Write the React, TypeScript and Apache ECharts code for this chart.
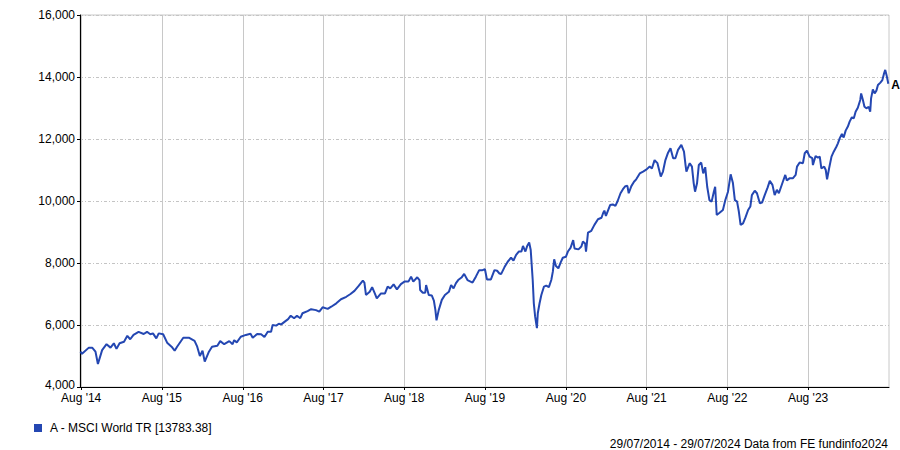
import React, { useEffect, useRef } from "react";
import * as echarts from "echarts";

const seriesName = "A - MSCI World TR [13783.38]";
const endLabelText = "A";
const footerText = "29/07/2014 - 29/07/2024 Data from FE fundinfo2024";

const tickDates = [
  "2014-08-01", "2015-08-01", "2016-08-01", "2017-08-01", "2018-08-01",
  "2019-08-01", "2020-08-01", "2021-08-01", "2022-08-01", "2023-08-01",
];
const xMinDate = "2014-07-27";
const xMaxDate = "2024-08-01";
const yMin = 4000;
const yMax = 16000;
const yStep = 2000;

const dates2014_2016 = [
  "2014-07-29", "2014-08-05", "2014-09-05", "2014-09-20", "2014-10-05", "2014-10-16", "2014-11-04", "2014-11-24", "2014-12-12", "2014-12-27",
  "2015-01-08", "2015-01-22", "2015-02-11", "2015-02-26", "2015-03-11", "2015-03-26", "2015-04-18", "2015-05-11", "2015-05-26", "2015-06-10",
  "2015-06-22", "2015-07-07", "2015-07-18", "2015-08-07", "2015-08-25", "2015-09-14", "2015-09-28", "2015-10-09", "2015-11-06", "2015-12-01",
  "2015-12-27", "2016-01-08", "2016-01-20", "2016-02-01", "2016-02-11", "2016-03-01", "2016-03-15", "2016-04-08", "2016-04-21", "2016-05-09",
  "2016-06-01", "2016-06-16", "2016-06-23", "2016-07-05", "2016-07-23", "2016-08-15", "2016-09-05", "2016-09-15", "2016-10-05", "2016-10-23",
  "2016-11-07", "2016-11-22", "2016-12-07", "2016-12-14", "2016-12-30",
];
const values2014_2016 = [
  5140, 5070, 5270, 5270, 5140, 4740, 5190, 5380, 5270, 5410,
  5230, 5410, 5460, 5650, 5540, 5680, 5780, 5710, 5780, 5700,
  5730, 5570, 5730, 5700, 5430, 5300, 5170, 5300, 5590, 5590,
  5490, 5300, 5000, 5170, 4820, 5140, 5300, 5330, 5480, 5380,
  5480, 5380, 5510, 5440, 5620, 5680, 5720, 5590, 5710, 5700,
  5610, 5780, 5780, 6000, 5980,
];

const dates2017_2019 = [
  "2017-01-11", "2017-01-22", "2017-02-07", "2017-02-22", "2017-03-06", "2017-03-21", "2017-04-03", "2017-04-18", "2017-04-28", "2017-05-21",
  "2017-06-06", "2017-06-28", "2017-07-13", "2017-07-28", "2017-08-20", "2017-09-05", "2017-09-28", "2017-10-19", "2017-11-12", "2017-12-01",
  "2017-12-19", "2018-01-07", "2018-01-26", "2018-02-02", "2018-02-09", "2018-02-26", "2018-03-09", "2018-03-21", "2018-03-30", "2018-04-18",
  "2018-05-06", "2018-05-18", "2018-05-30", "2018-06-14", "2018-06-29", "2018-07-17", "2018-08-02", "2018-08-20", "2018-09-01", "2018-09-11",
  "2018-09-29", "2018-10-09", "2018-10-12", "2018-10-24", "2018-11-04", "2018-11-08", "2018-11-20", "2018-12-04", "2018-12-13", "2018-12-20",
  "2018-12-25", "2019-01-04", "2019-01-18", "2019-02-01", "2019-02-19", "2019-03-01", "2019-03-12", "2019-03-23", "2019-04-02", "2019-04-17",
  "2019-04-29", "2019-05-14", "2019-06-06", "2019-06-21", "2019-07-06", "2019-07-21", "2019-08-01", "2019-08-10", "2019-08-28", "2019-09-13",
  "2019-09-25", "2019-10-04", "2019-10-13", "2019-10-28", "2019-11-12", "2019-11-27", "2019-12-08", "2019-12-20",
];
const values2017_2019 = [
  6040, 6020, 6110, 6190, 6300, 6220, 6300, 6220, 6380, 6450,
  6510, 6480, 6430, 6570, 6520, 6590, 6700, 6830, 6910, 7000,
  7100, 7260, 7430, 7370, 6970, 7070, 7220, 7020, 6860, 7020,
  7020, 7240, 7180, 7310, 7150, 7320, 7400, 7400, 7560, 7400,
  7540, 7450, 7130, 7040, 7040, 7290, 6970, 6950, 6790, 6480,
  6150, 6480, 6810, 6970, 7070, 7290, 7180, 7350, 7450, 7530,
  7650, 7450, 7370, 7560, 7770, 7770, 7800, 7470, 7470, 7770,
  7750, 7670, 7640, 7860, 8040, 8170, 8080, 8260,
];

const dates2020_2021 = [
  "2020-01-01", "2020-01-13", "2020-01-20", "2020-01-31", "2020-02-08", "2020-02-17", "2020-02-24", "2020-02-28", "2020-03-04", "2020-03-09",
  "2020-03-15", "2020-03-23", "2020-03-27", "2020-04-04", "2020-04-12", "2020-04-24", "2020-05-04", "2020-05-16", "2020-05-27", "2020-06-03",
  "2020-06-09", "2020-06-17", "2020-06-28", "2020-07-08", "2020-07-18", "2020-08-01", "2020-08-10", "2020-08-22", "2020-09-03", "2020-09-09",
  "2020-09-27", "2020-10-10", "2020-10-17", "2020-10-27", "2020-10-31", "2020-11-09", "2020-11-24", "2020-12-08", "2020-12-24", "2021-01-09",
  "2021-01-17", "2021-01-22", "2021-01-29", "2021-02-17", "2021-03-01", "2021-03-13", "2021-03-23", "2021-04-05", "2021-04-16", "2021-04-27",
  "2021-05-06", "2021-05-12", "2021-05-24", "2021-06-05", "2021-06-15", "2021-07-01", "2021-07-16", "2021-08-01", "2021-08-15", "2021-08-25",
  "2021-09-06", "2021-09-19", "2021-10-04", "2021-10-14", "2021-10-25", "2021-11-06", "2021-11-17", "2021-11-29", "2021-12-09", "2021-12-21",
];
const values2020_2021 = [
  8370, 8370, 8550, 8370, 8550, 8660, 8420, 7990, 7450, 6700,
  6270, 5900, 6380, 6700, 6970, 7240, 7270, 7220, 7450, 7720,
  8120, 7900, 7830, 8010, 8170, 8200, 8370, 8490, 8740, 8470,
  8440, 8530, 8690, 8630, 8370, 8980, 9040, 9230, 9410, 9460,
  9620, 9690, 9520, 9870, 9890, 9840, 10000, 10250, 10380, 10480,
  10490, 10250, 10480, 10620, 10700, 10890, 10950, 11020, 11110, 11050,
  11320, 11220, 10790, 10950, 11320, 11560, 11700, 11380, 11380, 11650,
];

const dates2022_2024 = [
  "2022-01-05", "2022-01-17", "2022-01-24", "2022-01-28", "2022-02-12", "2022-02-22", "2022-03-02", "2022-03-08", "2022-03-17", "2022-03-25",
  "2022-04-05", "2022-04-14", "2022-04-23", "2022-05-02", "2022-05-12", "2022-05-22", "2022-06-01", "2022-06-07", "2022-06-14", "2022-06-27",
  "2022-07-12", "2022-07-23", "2022-08-04", "2022-08-16", "2022-08-26", "2022-09-04", "2022-09-14", "2022-09-22", "2022-09-30", "2022-10-11",
  "2022-10-22", "2022-11-03", "2022-11-13", "2022-11-20", "2022-12-03", "2022-12-13", "2022-12-26", "2023-01-05", "2023-01-17", "2023-01-30",
  "2023-02-09", "2023-02-21", "2023-03-03", "2023-03-13", "2023-03-22", "2023-04-09", "2023-04-20", "2023-04-27", "2023-05-09", "2023-05-24",
  "2023-06-06", "2023-06-12", "2023-06-24", "2023-07-09", "2023-07-17", "2023-07-27", "2023-08-08", "2023-08-20", "2023-08-23", "2023-09-04",
  "2023-09-15", "2023-09-23", "2023-09-30", "2023-10-13", "2023-10-20", "2023-10-26", "2023-11-04", "2023-11-15", "2023-11-25", "2023-12-07",
  "2023-12-14", "2023-12-22", "2024-01-01", "2024-01-09", "2024-01-18", "2024-01-28", "2024-02-05", "2024-02-15", "2024-02-24", "2024-03-03",
  "2024-03-13", "2024-03-24", "2024-03-28", "2024-04-05", "2024-04-12", "2024-04-22", "2024-05-01", "2024-05-08", "2024-05-12", "2024-05-20",
  "2024-05-28", "2024-06-05", "2024-06-12", "2024-06-23", "2024-07-02", "2024-07-09", "2024-07-15", "2024-07-21", "2024-07-29",
];
const values2022_2024 = [
  11810, 11590, 11160, 10950, 11220, 11110, 10570, 10300, 10570, 11160,
  11240, 10890, 11090, 10460, 10030, 9980, 10300, 10460, 9550, 9620,
  9710, 10030, 10300, 10860, 10590, 10030, 9980, 9660, 9230, 9280,
  9470, 9710, 9820, 10190, 10330, 10250, 9930, 9950, 10190, 10430,
  10650, 10520, 10190, 10360, 10250, 10620, 10840, 10660, 10730, 10730,
  10840, 11110, 11240, 11220, 11540, 11620, 11430, 11380, 11160, 11450,
  11400, 11430, 11050, 11110, 11000, 10700, 11050, 11430, 11590, 11750,
  11860, 12020, 12160, 12050, 12270, 12400, 12560, 12700, 12670, 12880,
  13010, 13260, 13470, 13260, 13040, 12990, 13040, 12880, 13310, 13600,
  13470, 13560, 13740, 13820, 13900, 14100, 14230, 14060, 13783.38,
];

const allDates = [...dates2014_2016, ...dates2017_2019, ...dates2020_2021, ...dates2022_2024];
const allValues = [...values2014_2016, ...values2017_2019, ...values2020_2021, ...values2022_2024];

const FONT = 'Arial, "Liberation Sans", sans-serif';
const LINE_COLOR = "#2447b2";

const ts = (d: string) => Date.UTC(+d.slice(0, 4), +d.slice(5, 7) - 1, +d.slice(8, 10));

export default function App() {
  const ref = useRef<HTMLDivElement>(null);

  useEffect(() => {
    if (!ref.current) return;
    const chart = echarts.init(ref.current, undefined, { renderer: "svg" });
    const data = allDates.map((d, i) => [ts(d), allValues[i]]);
    const tickValues = tickDates.map(ts);

    chart.setOption({
      animation: false,
      textStyle: { fontFamily: FONT },
      grid: {
        left: 80,
        right: 11,
        top: 15,
        bottom: 63,
        containLabel: false,
        show: true,
        borderColor: "#c8c8c8",
        borderWidth: 1,
      },
      legend: {
        show: true,
        left: 29,
        top: 417,
        icon: "rect",
        itemWidth: 8,
        itemHeight: 8,
        textStyle: { fontSize: 12, color: "#000", fontFamily: FONT, padding: [0, 0, 0, 3] },
        data: [seriesName],
      },
      graphic: [
        {
          type: "text",
          x: 888,
          y: 444,
          style: {
            text: footerText,
            font: `12px ${FONT}`,
            fill: "#000",
            textAlign: "right",
            textVerticalAlign: "middle",
          },
        },
      ],
      xAxis: {
        type: "value",
        min: ts(xMinDate),
        max: ts(xMaxDate),
        axisLine: { show: true, lineStyle: { color: "#000", width: 1 } },
        axisTick: { show: true, length: 3, lineStyle: { color: "#000" }, customValues: tickValues },
        axisLabel: {
          customValues: tickValues,
          margin: 6,
          lineHeight: 10,
          fontSize: 12,
          color: "#000",
          fontFamily: FONT,
          formatter: (v: number) => {
            const d = new Date(v);
            return "Aug '" + String(d.getUTCFullYear()).slice(2);
          },
        },
        splitLine: { show: true, lineStyle: { color: "#c8c8c8", width: 1, type: "solid" } },
      },
      yAxis: {
        type: "value",
        min: yMin,
        max: yMax,
        interval: yStep,
        axisLine: { show: true, lineStyle: { color: "#000", width: 1 } },
        axisTick: { show: true, length: 3, lineStyle: { color: "#000" } },
        axisLabel: {
          margin: 5,
          lineHeight: 10,
          fontSize: 12,
          color: "#000",
          fontFamily: FONT,
          formatter: (v: number) =>
            v === yMin ? `{m|${v.toLocaleString("en-US")}}` : v.toLocaleString("en-US"),
          rich: {
            m: { fontSize: 12, color: "#000", fontFamily: FONT, lineHeight: 10, padding: [0, 0, 4, 0] },
          },
        },
        splitLine: {
          show: true,
          lineStyle: { color: "#c4c4c4", width: 1, type: [3, 2, 1, 2] },
        },
      },
      series: [
        {
          name: seriesName,
          type: "line",
          data,
          showSymbol: false,
          symbol: "none",
          color: LINE_COLOR,
          lineStyle: { color: LINE_COLOR, width: 2 },
          endLabel: {
            show: true,
            formatter: endLabelText,
            color: "#000",
            fontWeight: "bold",
            fontSize: 12,
            fontFamily: FONT,
            distance: 3,
            offset: [0, 1],
          },
        },
      ],
    });

    return () => chart.dispose();
  }, []);

  return (
    <div
      ref={ref}
      style={{ position: "fixed", left: 0, top: 0, width: 900, height: 450, background: "#fff" }}
    />
  );
}
